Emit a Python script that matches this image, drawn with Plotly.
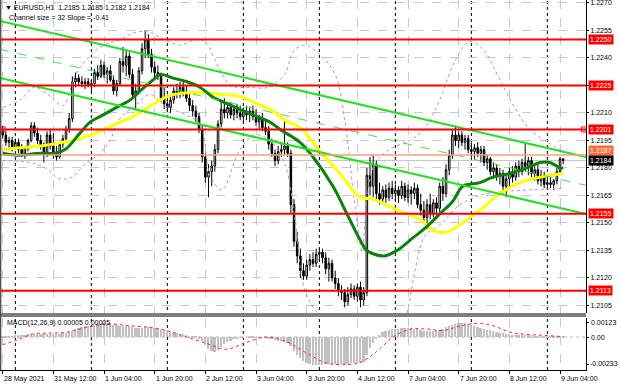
import plotly.graph_objects as go

# ---------------- data ----------------
opens = [1.2200,1.2198,1.2194,1.2195,1.2191,1.2194,1.2190,1.2188,1.2191,1.2195,
         1.2203,1.2199,1.2195,1.2192,1.2187,1.2198,1.2192,1.2188,1.2186,1.2193,
         1.2196,1.2201,1.2207,1.2227,1.2229,1.2227,1.2226,1.2227,1.2225,1.2226,
         1.2232,1.2230,1.2236,1.2231,1.2233,1.2228,1.2222,1.2226,1.2238,1.2236,
         1.2241,1.2231,1.2220,1.2222,1.2233,1.2245,1.2250,1.2242,1.2235,1.2232,
         1.2230,1.2218,1.2215,1.2213,1.2217,1.2222,1.2220,1.2224,1.2221,1.2218,
         1.2214,1.2211,1.2208,1.2201,1.2186,1.2175,1.2178,1.2181,1.2190,1.2204,
         1.2212,1.2210,1.2213,1.2209,1.2212,1.2210,1.2208,1.2211,1.2209,1.2211,
         1.2208,1.2205,1.2207,1.2202,1.2200,1.2193,1.2188,1.2184,1.2189,1.2190,
         1.2192,1.2188,1.2160,1.2140,1.2132,1.2124,1.2121,1.2127,1.2130,1.2128,
         1.2133,1.2134,1.2131,1.2125,1.2128,1.2120,1.2117,1.2113,1.2112,1.2107,
         1.2111,1.2114,1.2110,1.2115,1.2108,1.2112,1.2176,1.2170,1.2182,1.2166,
         1.2163,1.2168,1.2164,1.2169,1.2166,1.2168,1.2165,1.2170,1.2164,1.2168,
         1.2166,1.2169,1.2160,1.2157,1.2153,1.2160,1.2155,1.2161,1.2158,1.2170,
         1.2166,1.2179,1.2187,1.2198,1.2195,1.2198,1.2194,1.2196,1.2190,1.2189,
         1.2191,1.2188,1.2190,1.2183,1.2185,1.2178,1.2180,1.2176,1.2177,1.2170,
         1.2174,1.2178,1.2175,1.2181,1.2178,1.2183,1.2181,1.2184,1.2177,1.2179,
         1.2173,1.2176,1.2171,1.2172,1.2171,1.2173,1.2178,1.2185]
highs = [1.2203,1.2200,1.2197,1.2197,1.2196,1.2196,1.2193,1.2192,1.2196,1.2205,
         1.2205,1.2202,1.2198,1.2194,1.2200,1.2201,1.2199,1.2192,1.2194,1.2198,
         1.2203,1.2210,1.2230,1.2232,1.2231,1.2230,1.2229,1.2229,1.2228,1.2234,
         1.2236,1.2239,1.2238,1.2235,1.2236,1.2230,1.2228,1.2240,1.2246,1.2244,
         1.2243,1.2234,1.2226,1.2235,1.2248,1.2255,1.2253,1.2245,1.2238,1.2236,
         1.2232,1.2224,1.2220,1.2219,1.2224,1.2226,1.2227,1.2227,1.2225,1.2221,
         1.2217,1.2214,1.2210,1.2203,1.2188,1.2182,1.2184,1.2193,1.2206,1.2216,
         1.2218,1.2215,1.2216,1.2214,1.2215,1.2214,1.2213,1.2214,1.2213,1.2214,
         1.2212,1.2209,1.2210,1.2206,1.2203,1.2196,1.2190,1.2192,1.2194,1.2207,
         1.2194,1.2190,1.2163,1.2145,1.2136,1.2128,1.2130,1.2133,1.2134,1.2136,
         1.2136,1.2136,1.2134,1.2131,1.2130,1.2124,1.2120,1.2116,1.2114,1.2115,
         1.2117,1.2116,1.2117,1.2118,1.2115,1.2180,1.2186,1.2187,1.2184,1.2172,
         1.2170,1.2171,1.2172,1.2173,1.2171,1.2170,1.2173,1.2172,1.2171,1.2170,
         1.2172,1.2171,1.2166,1.2162,1.2163,1.2166,1.2163,1.2164,1.2172,1.2175,
         1.2182,1.2190,1.2201,1.2203,1.2200,1.2200,1.2198,1.2198,1.2194,1.2193,
         1.2194,1.2192,1.2192,1.2187,1.2186,1.2183,1.2182,1.2180,1.2179,1.2176,
         1.2180,1.2181,1.2183,1.2184,1.2185,1.2194,1.2186,1.2186,1.2181,1.2182,
         1.2179,1.2178,1.2175,1.2175,1.2174,1.2180,1.2186,1.2185]
lows = [1.2196,1.2192,1.2190,1.2189,1.2190,1.2188,1.2186,1.2185,1.2189,1.2194,
        1.2197,1.2193,1.2190,1.2183,1.2186,1.2190,1.2185,1.2184,1.2185,1.2191,
        1.2194,1.2199,1.2205,1.2224,1.2225,1.2224,1.2223,1.2224,1.2222,1.2224,
        1.2228,1.2229,1.2229,1.2226,1.2227,1.2220,1.2219,1.2225,1.2232,1.2230,
        1.2229,1.2218,1.2212,1.2220,1.2231,1.2240,1.2240,1.2232,1.2229,1.2228,
        1.2216,1.2212,1.2211,1.2210,1.2215,1.2218,1.2218,1.2219,1.2216,1.2211,
        1.2208,1.2205,1.2199,1.2183,1.2172,1.2164,1.2170,1.2178,1.2188,1.2202,
        1.2207,1.2207,1.2207,1.2206,1.2207,1.2206,1.2205,1.2206,1.2205,1.2206,
        1.2203,1.2201,1.2200,1.2198,1.2190,1.2186,1.2181,1.2182,1.2186,1.2187,
        1.2186,1.2155,1.2137,1.2128,1.2120,1.2119,1.2119,1.2124,1.2126,1.2126,
        1.2129,1.2128,1.2122,1.2118,1.2118,1.2114,1.2110,1.2108,1.2104,1.2105,
        1.2109,1.2108,1.2107,1.2104,1.2105,1.2110,1.2165,1.2164,1.2163,1.2160,
        1.2160,1.2161,1.2162,1.2163,1.2162,1.2161,1.2163,1.2162,1.2161,1.2160,
        1.2163,1.2158,1.2154,1.2150,1.2147,1.2152,1.2153,1.2154,1.2156,1.2162,
        1.2164,1.2176,1.2185,1.2192,1.2191,1.2192,1.2190,1.2188,1.2186,1.2185,
        1.2186,1.2183,1.2181,1.2179,1.2176,1.2174,1.2173,1.2171,1.2166,1.2164,
        1.2170,1.2172,1.2173,1.2175,1.2176,1.2178,1.2176,1.2175,1.2173,1.2171,
        1.2170,1.2169,1.2168,1.2169,1.2168,1.2171,1.2177,1.2182]
closes = [1.2198,1.2194,1.2195,1.2191,1.2194,1.2190,1.2188,1.2191,1.2195,1.2203,
          1.2199,1.2195,1.2192,1.2187,1.2198,1.2192,1.2188,1.2186,1.2193,1.2196,
          1.2201,1.2207,1.2227,1.2229,1.2227,1.2226,1.2227,1.2225,1.2226,1.2232,
          1.2230,1.2236,1.2231,1.2233,1.2228,1.2222,1.2226,1.2238,1.2236,1.2241,
          1.2231,1.2220,1.2222,1.2233,1.2245,1.2250,1.2242,1.2235,1.2232,1.2230,
          1.2218,1.2215,1.2213,1.2217,1.2222,1.2220,1.2224,1.2221,1.2218,1.2214,
          1.2211,1.2208,1.2201,1.2186,1.2175,1.2178,1.2181,1.2190,1.2204,1.2212,
          1.2210,1.2213,1.2209,1.2212,1.2210,1.2208,1.2211,1.2209,1.2211,1.2208,
          1.2205,1.2207,1.2202,1.2200,1.2193,1.2188,1.2184,1.2189,1.2190,1.2192,
          1.2188,1.2160,1.2140,1.2132,1.2124,1.2121,1.2127,1.2130,1.2128,1.2133,
          1.2134,1.2131,1.2125,1.2128,1.2120,1.2117,1.2113,1.2112,1.2107,1.2111,
          1.2114,1.2110,1.2115,1.2108,1.2112,1.2176,1.2170,1.2182,1.2166,1.2163,
          1.2168,1.2164,1.2169,1.2166,1.2168,1.2165,1.2170,1.2164,1.2168,1.2166,
          1.2169,1.2160,1.2157,1.2153,1.2160,1.2155,1.2161,1.2158,1.2170,1.2166,
          1.2179,1.2187,1.2198,1.2195,1.2198,1.2194,1.2196,1.2190,1.2189,1.2191,
          1.2188,1.2190,1.2183,1.2185,1.2178,1.2180,1.2176,1.2177,1.2170,1.2174,
          1.2178,1.2175,1.2181,1.2178,1.2183,1.2181,1.2184,1.2177,1.2179,1.2173,
          1.2176,1.2171,1.2172,1.2171,1.2173,1.2178,1.2185,1.2184]
bars = list(range(len(closes)))

# moving averages (bar index, price)
ma_green_x = [0, 4, 12, 16.5, 19.7, 24.4, 27.6, 30.7, 37, 40.2, 43.4, 47.5, 49.7, 53.8, 58.2,
              62.3, 66.1, 69.6, 74.9, 80.3, 84.4, 87.6, 93.9, 98, 104.3, 108.7, 112.8, 115,
              120.4, 124.5, 129.6, 133.3, 138.1, 142.2, 145.3, 150.7, 154.8, 160.2, 165.6,
              169.7, 172.8, 176, 177]
ma_green_y = [1.2188, 1.2187, 1.2188, 1.2188, 1.2190, 1.2199, 1.2205, 1.2208, 1.2214, 1.2217,
              1.2222, 1.2228, 1.2231, 1.2229, 1.2227, 1.2224, 1.2219, 1.2216, 1.2212, 1.2208,
              1.2205, 1.2201, 1.2194, 1.2186, 1.2170, 1.2155, 1.2141, 1.2135, 1.2132, 1.2135,
              1.2142, 1.2147, 1.2155, 1.2162, 1.2170, 1.2172, 1.2175, 1.2177, 1.2180, 1.2183,
              1.2183, 1.2180, 1.2180]
ma_yellow_x = [0, 5.5, 11.8, 15.9, 19, 24.4, 30.7, 37, 41.1, 45, 49.7, 53.8, 59.1, 64.5, 69.6,
               74.9, 80.3, 85.4, 89.1, 93.9, 100.2, 106.5, 112.8, 116.9, 124.5, 131.8, 135.9,
               140.3, 144.4, 150.7, 157, 163.3, 169.7, 177]
ma_yellow_y = [1.2190, 1.2191, 1.2192, 1.2193, 1.2194, 1.2196, 1.2200, 1.2205, 1.2208, 1.2212,
               1.2217, 1.2220, 1.2221, 1.2221, 1.2220, 1.2219, 1.2215, 1.2211, 1.2206, 1.2202,
               1.2189, 1.2177, 1.2164, 1.2163, 1.2157, 1.2152, 1.2146, 1.2145, 1.2149, 1.2157,
               1.2166, 1.2172, 1.2175, 1.2177]

# envelope bands (purple dotted)
band_up_x = [0, 5.5, 10, 15, 19, 23, 28, 32, 37, 42, 46.5, 51, 56, 61, 64, 67, 72, 78, 84, 89,
             92, 95.5, 100, 105, 108, 111, 113.5, 115, 117.5, 122, 128.5, 133, 138, 143, 147.5,
             152, 157, 162, 166.5, 173, 177]
band_up_y = [1.2213, 1.2217, 1.2224, 1.2219, 1.2214, 1.2231, 1.2242, 1.2247, 1.2250, 1.2254,
             1.2254, 1.2250, 1.2247, 1.2250, 1.2249, 1.2239, 1.2225, 1.2224, 1.2224, 1.2231,
             1.2244, 1.2247, 1.2242, 1.2231, 1.2206, 1.2163, 1.2135, 1.2163, 1.2182, 1.2190,
             1.2195, 1.2201, 1.2217, 1.2239, 1.2249, 1.2244, 1.2228, 1.2212, 1.2201, 1.2193,
             1.2189]
band_dn_x = [0, 8.6, 13.4, 18.1, 21.9, 26, 30.7, 33.9, 37, 41.8, 46.5, 51.2, 57.6, 62.3, 65.5,
             69.2, 74.9, 79.7, 84.4, 89.1, 92.3, 95.5, 100.2, 106.5, 112.8, 116, 122.3, 127,
             130.2, 133.3, 138.1, 144.4, 150.7, 157, 166.5, 177]
band_dn_y = [1.2184, 1.2183, 1.2180, 1.2174, 1.2175, 1.2182, 1.2188, 1.2195, 1.2207, 1.2214,
             1.2220, 1.2214, 1.2209, 1.2204, 1.2176, 1.2168, 1.2190, 1.2198, 1.2195, 1.2182,
             1.2152, 1.2113, 1.2100, 1.2098, 1.2097, 1.2092, 1.2083, 1.2097, 1.2124, 1.2143,
             1.2149, 1.2160, 1.2165, 1.2167, 1.2168, 1.2169]

# regression channel (values at the chart's left and right edges)
chan_x = [-0.85, 184.2]
chan_upper = [1.22602, 1.21860]
chan_mid = [1.22447, 1.21705]
chan_lower = [1.22291, 1.21549]

# horizontal levels
levels = [1.2250, 1.2225, 1.2201, 1.2155, 1.2113]
orange_level = 1.2187
last_price = 1.2184

# MACD
macd_hist = [0.00005, 0.00008, 0.00010, 0.00012, 0.00014, 0.00016,
             0.00018, 0.00020, 0.00022, 0.00025, 0.00027, 0.00028, 0.00026, 0.00024, 0.00026, 0.00028,
             0.00027, 0.00025, 0.00026, 0.00030, 0.00035, 0.00042,
             0.00055, 0.00068, 0.00078, 0.00085, 0.00090, 0.00094, 0.00098, 0.00102, 0.00106, 0.00108,
             0.00110, 0.00112, 0.00110,
             0.00104, 0.00100, 0.00098, 0.00098, 0.00096, 0.00092, 0.00086, 0.00080, 0.00078, 0.00080,
             0.00086, 0.00088, 0.00084, 0.00078, 0.00072, 0.00064, 0.00056, 0.00048,
             0.00040, 0.00034, 0.00030, 0.00026, 0.00022, 0.00018, 0.00012, 0.00006, 0.00002,
             -0.00010, -0.00035, -0.00070, -0.00100, -0.00120, -0.00125, -0.00110, -0.00085,
             -0.00060, -0.00042, -0.00030, -0.00020, -0.00012, -0.00006, -0.00002,
             0.00000, 0.00002, 0.00001, -0.00002, -0.00004, -0.00006, -0.00008, -0.00012, -0.00016,
             -0.00022, -0.00030, -0.00038, -0.00045, -0.00055,
             -0.00080, -0.00115, -0.00150, -0.00180, -0.00205, -0.00222, -0.00232,
             -0.00236, -0.00238, -0.00238, -0.00236, -0.00234, -0.00233, -0.00232, -0.00232, -0.00232,
             -0.00230, -0.00228, -0.00226, -0.00225, -0.00222, -0.00220, -0.00218, -0.00215,
             -0.00150, -0.00095, -0.00050, -0.00010, 0.00020, 0.00040, 0.00052, 0.00060, 0.00066,
             0.00070, 0.00072,
             0.00074, 0.00075, 0.00074, 0.00073, 0.00070, 0.00066, 0.00060, 0.00055, 0.00052,
             0.00052, 0.00054, 0.00058, 0.00064, 0.00072, 0.00082, 0.00094, 0.00106, 0.00114, 0.00118,
             0.00120, 0.00118,
             0.00112, 0.00104, 0.00096, 0.00088, 0.00080, 0.00072, 0.00064, 0.00056, 0.00048, 0.00042,
             0.00036, 0.00030, 0.00026, 0.00022,
             0.00020, 0.00018, 0.00016, 0.00016, 0.00017, 0.00016, 0.00014, 0.00012, 0.00010, 0.00008,
             0.00006, 0.00004, 0.00002, 0.00002, 0.00003, 0.00004, 0.00005]
sig_x = [0, 4.4, 9.7, 15, 20.2, 26.5, 32.8, 39.2, 46.5, 51.8, 58.1, 64.4, 70.7, 76, 83.4, 89.7,
         96, 102.2, 107.5, 112.8, 118.1, 123.3, 128.6, 133.9, 139.1, 144.4, 149.7, 154.9, 160.2,
         165.5, 170.8, 176.2, 177]
sig_y = [-0.00065, -0.00027, 0.00027, 0.00033, 0.00041, 0.00082, 0.00112, 0.00098, 0.00082,
         0.00055, 0.0, -0.00055, -0.00105, -0.00055, 0.0, -0.00041, -0.00137, -0.00222, -0.00234,
         -0.00219, -0.00123, 0.0, 0.00066, 0.00068, 0.00055, 0.00094, 0.00116, 0.00096, 0.00041,
         0.00022, 0.00014, 0.00005, 0.00005]

# axis labels
tick_bars = [0, 16, 32, 48, 64, 80, 96, 112, 128, 144, 160, 176]
tick_labels = ["28 May 2021", "31 May 12:00", "1 Jun 04:00", "1 Jun 20:00", "2 Jun 12:00",
               "3 Jun 04:00", "3 Jun 20:00", "4 Jun 12:00", "7 Jun 04:00", "7 Jun 20:00",
               "8 Jun 12:00", "9 Jun 04:00"]
separator_bars = [4, 28, 52, 76, 100, 124, 148, 172]
price_ticks = [1.2270, 1.2255, 1.2240, 1.2225, 1.2210, 1.2195, 1.2180, 1.2165, 1.2150, 1.2135,
               1.2120, 1.2105]
price_tick_text = ["1.2270", "1.2255", "1.2240", "", "1.2210", "1.2195", "1.2180", "1.2165",
                   "1.2150", "1.2135", "1.2120", "1.2105"]
macd_ticks = [0.00123, 0.0, -0.00233]
macd_tick_text = ["0.00123", "0.00", "-0.00233"]

# ---------------- figure ----------------
FONT = "Liberation Sans"
FS = 7
PLOT_H = 370.0
MACD_RANGE = [-0.00281, 0.00162]
MACD_TOP_PX, MACD_BOT_PX = 318.0, 370.0

def py(px):
    return (PLOT_H - px) / PLOT_H

def macd_paper(v):
    frac = (v - MACD_RANGE[0]) / (MACD_RANGE[1] - MACD_RANGE[0])
    return py(MACD_BOT_PX - frac * (MACD_BOT_PX - MACD_TOP_PX))

fig = go.Figure()

band_style = dict(color="#b48ee0", width=1, dash="dot")
fig.add_trace(go.Scatter(x=band_up_x, y=band_up_y, mode="lines", line=band_style,
                         line_shape="spline", hoverinfo="skip", showlegend=False))
fig.add_trace(go.Scatter(x=band_dn_x, y=band_dn_y, mode="lines", line=band_style,
                         line_shape="spline", hoverinfo="skip", showlegend=False))

fig.add_trace(go.Candlestick(
    x=bars, open=opens, high=highs, low=lows, close=closes,
    increasing=dict(line=dict(color="#000000", width=1), fillcolor="#ffffff"),
    decreasing=dict(line=dict(color="#000000", width=1), fillcolor="#000000"),
    whiskerwidth=0, showlegend=False, hoverinfo="skip"))

fig.add_trace(go.Scatter(x=ma_yellow_x, y=ma_yellow_y, mode="lines", line_shape="spline",
                         line=dict(color="#ffff00", width=3), showlegend=False, hoverinfo="skip"))
fig.add_trace(go.Scatter(x=ma_green_x, y=ma_green_y, mode="lines", line_shape="spline",
                         line=dict(color="#0b820b", width=3), showlegend=False, hoverinfo="skip"))

fig.add_trace(go.Scatter(x=chan_x, y=chan_upper, mode="lines",
                         line=dict(color="#22e022", width=2), showlegend=False, hoverinfo="skip"))
fig.add_trace(go.Scatter(x=chan_x, y=chan_lower, mode="lines",
                         line=dict(color="#22e022", width=2), showlegend=False, hoverinfo="skip"))
fig.add_trace(go.Scatter(x=chan_x, y=chan_mid, mode="lines",
                         line=dict(color="#44e044", width=1, dash="dash"), showlegend=False,
                         hoverinfo="skip"))

# MACD panel
fig.add_trace(go.Bar(x=bars, y=macd_hist, marker=dict(color="#c0c0c0", line=dict(width=0)),
                     width=0.55, xaxis="x2", yaxis="y2", showlegend=False, hoverinfo="skip"))
fig.add_trace(go.Scatter(x=sig_x, y=sig_y, mode="lines", line_shape="spline",
                         line=dict(color="#ff2020", width=1, dash="dot"),
                         xaxis="x2", yaxis="y2", showlegend=False, hoverinfo="skip"))

# level anchor squares on 1.2201 line
fig.add_trace(go.Scatter(x=[0, 183.6], y=[levels[2], levels[2]], mode="markers",
                         marker=dict(symbol="square-open", size=5, color="#ff0000",
                                     line=dict(width=1, color="#ff0000")),
                         showlegend=False, hoverinfo="skip"))

shapes = []
for b in separator_bars:
    shapes.append(dict(type="line", xref="x", yref="paper", x0=b, x1=b, y0=0, y1=1,
                       line=dict(color="#000000", width=1, dash="dot"), layer="below"))
shapes.append(dict(type="line", xref="paper", yref="y", x0=0, x1=1, y0=last_price,
                   y1=last_price, line=dict(color="#c0c0c0", width=1), layer="below"))
shapes.append(dict(type="line", xref="paper", yref="y", x0=0, x1=1, y0=orange_level,
                   y1=orange_level, line=dict(color="#f4a07c", width=1.5), layer="above"))
for lv in levels:
    shapes.append(dict(type="line", xref="paper", yref="y", x0=0, x1=1, y0=lv, y1=lv,
                       line=dict(color="#ff0000", width=2), layer="above"))
shapes.append(dict(type="line", xref="paper", yref="y2", x0=0, x1=1, y0=0, y1=0,
                   line=dict(color="#b0b0b0", width=1, dash="dot"), layer="below"))
shapes.append(dict(type="rect", xref="paper", yref="paper", x0=0, x1=1,
                   y0=py(317), y1=py(313), fillcolor="#7f7f7f", line=dict(width=0),
                   layer="above"))
shapes.append(dict(type="line", xref="paper", yref="paper", x0=0.001, x1=0.001, y0=0, y1=1,
                   line=dict(color="#505050", width=1.5), layer="above"))

annotations = []
for b, t in zip(tick_bars, tick_labels):
    annotations.append(dict(x=b, xref="x2", y=0, yref="paper", text=t, showarrow=False,
                            xanchor="left", yanchor="top", yshift=-3, xshift=-1,
                            font=dict(family=FONT, size=FS, color="#000000")))
for v, t in zip(macd_ticks[:2], macd_tick_text[:2]):
    annotations.append(dict(x=1, xref="paper", y=macd_paper(v), yref="paper", text=t,
                            showarrow=False, xanchor="left", yanchor="middle", xshift=3,
                            font=dict(family=FONT, size=FS, color="#000000")))
annotations.append(dict(x=1, xref="paper", y=0, yref="paper", text=macd_tick_text[2],
                        showarrow=False, xanchor="left", yanchor="bottom", xshift=2, yshift=1,
                        font=dict(family=FONT, size=FS, color="#000000")))
for lv in levels:
    annotations.append(dict(x=1, xref="paper", y=lv, yref="y", text=f"{lv:.4f}",
                            showarrow=False, xanchor="left", yanchor="middle", xshift=2,
                            bgcolor="#ff0000", borderpad=1,
                            font=dict(family=FONT, size=FS, color="#ffffff")))
annotations.append(dict(x=1, xref="paper", y=orange_level, yref="y", text=f"{orange_level:.4f}",
                        showarrow=False, xanchor="left", yanchor="middle", xshift=2, yshift=5,
                        bgcolor="#ff6a3d", borderpad=1,
                        font=dict(family=FONT, size=FS, color="#ffffff")))
annotations.append(dict(x=1, xref="paper", y=last_price, yref="y", text=f"{last_price:.4f}",
                        showarrow=False, xanchor="left", yanchor="middle", xshift=2,
                        bgcolor="#000000", borderpad=1,
                        font=dict(family=FONT, size=FS, color="#ffffff")))
annotations.append(dict(x=3 / 586, xref="paper", y=py(7), yref="paper",
                        text="▼ EURUSD,H1  1.2185 1.2185 1.2182 1.2184", showarrow=False,
                        xanchor="left", yanchor="middle",
                        font=dict(family=FONT, size=FS, color="#000000")))
annotations.append(dict(x=7 / 586, xref="paper", y=py(18), yref="paper",
                        text="Channel size = 32 Slope = -0.41", showarrow=False,
                        xanchor="left", yanchor="middle",
                        font=dict(family=FONT, size=FS, color="#000000")))
annotations.append(dict(x=5 / 586, xref="paper", y=py(323), yref="paper",
                        text="MACD(12,26,9) 0.00005 0.00005", showarrow=False,
                        xanchor="left", yanchor="middle",
                        font=dict(family=FONT, size=FS, color="#000000")))

xr = [-0.85, 184.2]
fig.update_layout(
    width=620, height=388,
    margin=dict(l=0, r=34, t=0, b=18),
    paper_bgcolor="#ffffff", plot_bgcolor="#ffffff",
    showlegend=False, bargap=0,
    font=dict(family=FONT, size=FS, color="#000000"),
    xaxis=dict(range=xr, anchor="y", domain=[0, 1], showticklabels=False,
               tickvals=tick_bars, showgrid=True, gridcolor="#c8c8c8", griddash="dash",
               gridwidth=1, zeroline=False, showline=False, rangeslider=dict(visible=False),
               fixedrange=True),
    xaxis2=dict(range=xr, anchor="y2", domain=[0, 1], matches="x", showticklabels=False,
                tickvals=tick_bars, ticks="outside", ticklen=3, tickcolor="#000000",
                showgrid=True, gridcolor="#c8c8c8", griddash="dash", zeroline=False,
                showline=True, linecolor="#000000", linewidth=1),
    yaxis=dict(domain=[py(313), 1], range=[1.21009, 1.22716], side="right", anchor="x",
               tickvals=price_ticks, ticktext=price_tick_text,
               ticks="outside", ticklen=2, tickcolor="#000000", ticklabelstandoff=0,
               ticklabeloverflow="allow",
               tickfont=dict(family=FONT, size=FS, color="#000000"),
               showgrid=True, gridcolor="#c8c8c8", griddash="dash", zeroline=False,
               showline=True, linecolor="#000000", linewidth=1),
    yaxis2=dict(domain=[0, py(MACD_TOP_PX)], range=MACD_RANGE, side="right", anchor="x2",
                tickvals=macd_ticks, showticklabels=False, ticks="outside", ticklen=2,
                tickcolor="#000000",
                showgrid=False, zeroline=False, showline=True, linecolor="#000000",
                linewidth=1),
    shapes=shapes,
    annotations=annotations,
)

fig.write_html("out.html", config={"displayModeBar": False},
               post_script="document.body.style.margin='0px';document.body.style.overflow='hidden';")
